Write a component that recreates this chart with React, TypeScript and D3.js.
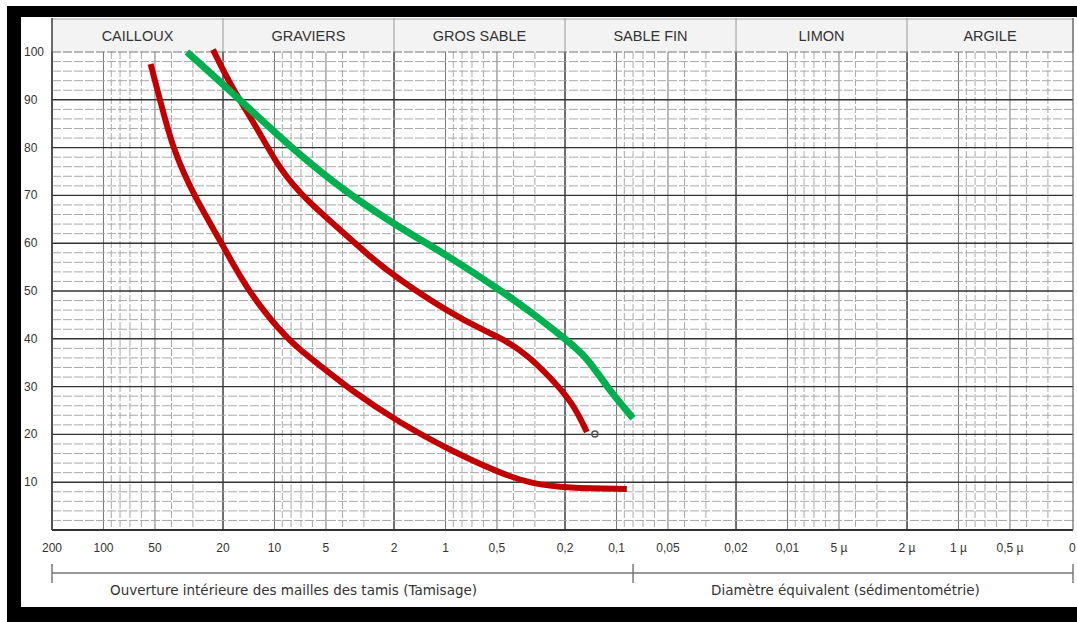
import React, { useEffect, useRef } from "react";
import * as d3 from "d3";

const W = 1077;
const H = 622;

// soil classes along the grain size axis (mm)
const soilClasses = ["CAILLOUX", "GRAVIERS", "GROS SABLE", "SABLE FIN", "LIMON", "ARGILE"];
const classBounds = [200, 20, 2, 0.2, 0.02, 0.002, 0.000214];

const xTickValues = [200, 100, 50, 20, 10, 5, 2, 1, 0.5, 0.2, 0.1, 0.05, 0.02, 0.01, 0.005, 0.002, 0.001, 0.0005, 0.000214];
const xTickLabels = ["200", "100", "50", "20", "10", "5", "2", "1", "0,5", "0,2", "0,1", "0,05", "0,02", "0,01", "5 µ", "2 µ", "1 µ", "0,5 µ", "0"];
const yTickValues = [10, 20, 30, 40, 50, 60, 70, 80, 90, 100];

const methodLabels = ["Ouverture intérieure des mailles des tamis (Tamisage)", "Diamètre équivalent (sédimentométrie)"];
const methodBounds = [200, 0.08, 0.000214];

// green curve
const greenD = [32.5, 17.5, 8.1, 3.77, 1.92, 0.94, 0.48, 0.31, 0.195, 0.149, 0.114, 0.08];
const greenP = [100, 91.4, 80.1, 70.5, 63.6, 57.1, 50.2, 45.4, 39.7, 36.2, 29.9, 23.4];

// upper red curve
const redUpperD = [22.9, 17.5, 12.7, 9.3, 6.5, 4.3, 2.76, 1.85, 0.94, 0.6, 0.45, 0.33, 0.245, 0.18, 0.149];
const redUpperP = [100.5, 92.1, 84.3, 75.3, 69.0, 63.4, 57.1, 52.3, 45.4, 41.8, 39.8, 36.5, 32.0, 26.6, 20.5];

// lower red curve
const redLowerD = [53, 46.7, 39.2, 29.2, 20, 14.3, 8.1, 5.6, 3.6, 1.85, 0.94, 0.48, 0.31, 0.195, 0.087];
const redLowerP = [97.5, 90, 79.5, 69.5, 59.6, 49.8, 39.1, 34.9, 29.3, 22.4, 16.7, 11.9, 9.6, 8.8, 8.6];

const FONT = "'Liberation Sans', Arial, sans-serif";
const FONT_WIDE = "'DejaVu Sans', Verdana, sans-serif";

export default function App() {
  const ref = useRef<SVGSVGElement>(null);

  useEffect(() => {
    const svg = d3.select(ref.current);
    svg.selectAll("*").remove();

    const left = 52, right = 1073, top = 52, bottom = 530, headTop = 18;

    const x = d3.scaleLog().domain([200, 0.000214]).range([left, right]);
    const y = d3.scaleLinear().domain([0, 100]).range([bottom, top]);

    svg.append("rect").attr("width", W).attr("height", H).attr("fill", "#fff");

    // header band
    svg.append("rect")
      .attr("x", left).attr("y", headTop)
      .attr("width", right - left).attr("height", top - headTop)
      .attr("fill", "#f3f3f3");
    svg.append("line")
      .attr("x1", left).attr("x2", right).attr("y1", headTop + 1).attr("y2", headTop + 1)
      .attr("stroke", "#aaa").attr("stroke-width", 1);

    svg.selectAll("headSep")
      .data(classBounds)
      .enter()
      .append("line")
      .attr("x1", d => x(d)).attr("x2", d => x(d))
      .attr("y1", headTop).attr("y2", top)
      .attr("stroke", "#999").attr("stroke-width", 1);

    svg.selectAll("headText")
      .data(soilClasses)
      .enter()
      .append("text")
      .attr("x", (d, i) => (x(classBounds[i]) + x(classBounds[i + 1])) / 2)
      .attr("y", 41)
      .attr("text-anchor", "middle")
      .attr("font-family", FONT)
      .attr("font-size", 14.5)
      .attr("fill", "#333")
      .text(d => d);

    // vertical log grid
    const vLines: { v: number; kind: string }[] = [];
    for (let k = -4; k <= 2; k++) {
      for (let n = 1; n <= 9; n++) {
        const v = n * Math.pow(10, k);
        if (v > 200 || v < 0.000214) continue;
        const kind = n === 2 ? "major" : (n === 1 || n === 5 ? "mid" : "minor");
        vLines.push({ v, kind });
      }
    }
    svg.selectAll("vGrid")
      .data(vLines)
      .enter()
      .append("line")
      .attr("x1", d => x(d.v)).attr("x2", d => x(d.v))
      .attr("y1", top).attr("y2", bottom)
      .attr("stroke", d => d.kind === "major" ? "#333" : d.kind === "mid" ? "#777" : "#aaa")
      .attr("stroke-width", d => d.kind === "major" ? 1.4 : 1)
      .attr("stroke-dasharray", d => d.kind === "minor" ? "7,2" : null);

    // horizontal grid
    const hLines = d3.range(0, 101, 2);
    svg.selectAll("hGrid")
      .data(hLines)
      .enter()
      .append("line")
      .attr("x1", left).attr("x2", right)
      .attr("y1", d => y(d)).attr("y2", d => y(d))
      .attr("stroke", d => d === 100 ? "#777" : d % 10 === 0 ? "#333" : "#aaa")
      .attr("stroke-width", d => d === 0 ? 2.2 : d % 10 === 0 && d < 100 ? 1.4 : 1)
      .attr("stroke-dasharray", d => d % 10 === 0 && d < 100 ? null : "9,2");

    // plot borders
    svg.append("line").attr("x1", left).attr("x2", left).attr("y1", headTop).attr("y2", bottom)
      .attr("stroke", "#444").attr("stroke-width", 1.4);
    svg.append("line").attr("x1", right).attr("x2", right).attr("y1", headTop).attr("y2", bottom)
      .attr("stroke", "#666").attr("stroke-width", 1.2);

    // y tick labels
    svg.selectAll("yLabels")
      .data(yTickValues)
      .enter()
      .append("text")
      .attr("x", 24)
      .attr("y", d => y(d) + 4)
      .attr("font-family", FONT)
      .attr("font-size", 12)
      .attr("fill", "#333")
      .text(d => d);

    // x tick labels
    const last = xTickValues.length - 1;
    svg.selectAll("xLabels")
      .data(xTickValues)
      .enter()
      .append("text")
      .attr("x", (d, i) => i === last ? x(d) - 4 : x(d))
      .attr("y", 552)
      .attr("text-anchor", (d, i) => i === last ? "start" : "middle")
      .attr("font-family", FONT)
      .attr("font-size", 12)
      .attr("fill", "#333")
      .text((d, i) => xTickLabels[i]);

    // method bracket
    svg.append("line")
      .attr("x1", x(methodBounds[0])).attr("x2", x(methodBounds[2]))
      .attr("y1", 573).attr("y2", 573)
      .attr("stroke", "#777").attr("stroke-width", 1.5);
    svg.selectAll("methodTicks")
      .data(methodBounds)
      .enter()
      .append("line")
      .attr("x1", d => x(d)).attr("x2", d => x(d))
      .attr("y1", 564).attr("y2", 583)
      .attr("stroke", "#666").attr("stroke-width", 1.3);
    const methodOffsets = [58, 78];
    svg.selectAll("methodText")
      .data(methodLabels)
      .enter()
      .append("text")
      .attr("x", (d, i) => x(methodBounds[i]) + methodOffsets[i])
      .attr("y", 595)
      .attr("font-family", FONT_WIDE)
      .attr("font-size", 13.5)
      .attr("fill", "#333")
      .text(d => d);

    // curves
    const line = d3.line<[number, number]>()
      .x(d => x(d[0]))
      .y(d => y(d[1]))
      .curve(d3.curveBasis);

    const series = [
      { d: redLowerD, p: redLowerP, color: "#c00000", width: 6 },
      { d: redUpperD, p: redUpperP, color: "#c00000", width: 6 },
      { d: greenD, p: greenP, color: "#00b050", width: 7 },
    ];

    // small pencil mark at the end of the upper red curve
    svg.append("circle")
      .attr("cx", x(redUpperD[redUpperD.length - 1]) + 8)
      .attr("cy", y(redUpperP[redUpperP.length - 1]) + 2)
      .attr("r", 3)
      .attr("fill", "none")
      .attr("stroke", "#555")
      .attr("stroke-width", 1.5);

    svg.selectAll("curves")
      .data(series)
      .enter()
      .append("path")
      .attr("d", s => line(s.d.map((v, i) => [v, s.p[i]] as [number, number])))
      .attr("fill", "none")
      .attr("stroke", s => s.color)
      .attr("stroke-width", s => s.width)
      .attr("stroke-linejoin", "round");

    // black frame of the screenshot
    svg.append("rect").attr("x", 7).attr("y", 6).attr("width", W - 7).attr("height", 11).attr("fill", "#000");
    svg.append("rect").attr("x", 7).attr("y", 6).attr("width", 14).attr("height", H - 6).attr("fill", "#000");
    svg.append("rect").attr("x", 7).attr("y", 607).attr("width", W - 7).attr("height", H - 607).attr("fill", "#000");
  }, []);

  return (
    <svg ref={ref} width={W} height={H} style={{ position: "absolute", left: 0, top: 0, display: "block" }} />
  );
}
